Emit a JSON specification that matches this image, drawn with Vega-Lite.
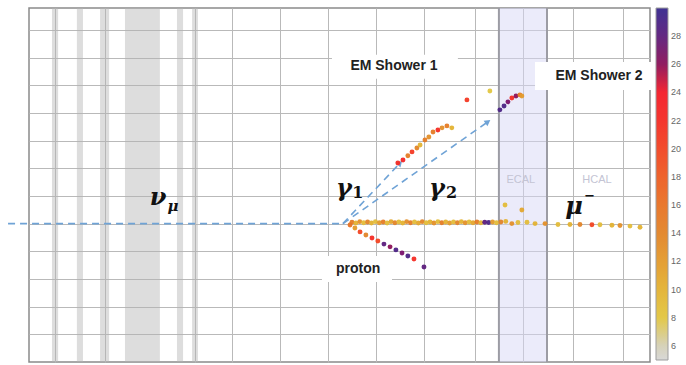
{
  "$schema": "https://vega.github.io/schema/vega-lite/v6.json",
  "width": 621,
  "height": 354,
  "autosize": {"type": "none"},
  "padding": {"left": 29, "top": 8, "right": 36, "bottom": 3},
  "background": "white",
  "config": {
    "view": {"stroke": "#8a8a8a", "strokeWidth": 1.5},
    "axis": {"labels": false, "ticks": false, "domain": false, "title": null, "gridColor": "#b9b9b9", "gridWidth": 1}
  },
  "datasets": {
    "bands": [
      {"x0": 0.61, "x1": 0.86},
      {"x0": 1.63, "x1": 1.88},
      {"x0": 2.58, "x1": 2.95},
      {"x0": 3.60, "x1": 5.03},
      {"x0": 5.73, "x1": 5.98},
      {"x0": 6.35, "x1": 6.59}
    ],
    "ecal": [{"x0": 18.92, "x1": 20.89}],
    "edges": [{"x": 18.92}, {"x": 20.89}],
    "boxes": [
      {"label": "EM Shower 1", "x0": 12.08, "x1": 17.24, "y0": 10.23, "y1": 11.10},
      {"label": "EM Shower 2", "x0": 20.40, "x1": 25.60, "y0": 9.83, "y1": 10.84},
      {"label": "proton", "x0": 11.67, "x1": 14.54, "y0": 2.89, "y1": 3.83}
    ],
    "tracks": [
      {"track": "beam", "x": -1.19, "y": 5.0},
      {"track": "beam", "x": 12.53, "y": 5.0},
      {"track": "gamma1", "x": 12.53, "y": 5.0},
      {"track": "gamma1", "x": 14.87, "y": 7.19},
      {"track": "gamma2", "x": 12.53, "y": 5.0},
      {"track": "gamma2", "x": 18.47, "y": 8.68}
    ],
    "arrows": [
      {"track": "gamma1", "x": 14.87, "y": 7.19},
      {"track": "gamma2", "x": 18.47, "y": 8.68}
    ],
    "hits": [
      {"x": 12.90, "y": 5.05, "e": 15}, {"x": 13.06, "y": 5.02, "e": 10}, {"x": 13.22, "y": 5.07, "e": 13},
      {"x": 13.38, "y": 5.03, "e": 9}, {"x": 13.54, "y": 5.06, "e": 14}, {"x": 13.70, "y": 5.02, "e": 10},
      {"x": 13.86, "y": 5.07, "e": 9}, {"x": 14.02, "y": 5.03, "e": 12}, {"x": 14.18, "y": 5.06, "e": 15},
      {"x": 14.34, "y": 5.02, "e": 9}, {"x": 14.50, "y": 5.07, "e": 11}, {"x": 14.66, "y": 5.03, "e": 14},
      {"x": 14.82, "y": 5.06, "e": 9}, {"x": 14.98, "y": 5.02, "e": 10}, {"x": 15.14, "y": 5.07, "e": 13},
      {"x": 15.30, "y": 5.03, "e": 15}, {"x": 15.46, "y": 5.06, "e": 9}, {"x": 15.62, "y": 5.02, "e": 11},
      {"x": 15.78, "y": 5.07, "e": 14}, {"x": 15.94, "y": 5.03, "e": 9}, {"x": 16.10, "y": 5.06, "e": 10},
      {"x": 16.26, "y": 5.02, "e": 13}, {"x": 16.42, "y": 5.07, "e": 9}, {"x": 16.58, "y": 5.03, "e": 15},
      {"x": 16.74, "y": 5.06, "e": 10}, {"x": 16.90, "y": 5.02, "e": 12}, {"x": 17.06, "y": 5.06, "e": 9},
      {"x": 17.22, "y": 5.03, "e": 14}, {"x": 17.38, "y": 5.07, "e": 10}, {"x": 17.54, "y": 5.03, "e": 13},
      {"x": 17.70, "y": 5.06, "e": 9}, {"x": 17.86, "y": 5.03, "e": 11}, {"x": 18.02, "y": 5.06, "e": 15},
      {"x": 18.18, "y": 5.03, "e": 10}, {"x": 18.34, "y": 5.05, "e": 28}, {"x": 18.50, "y": 5.04, "e": 29},
      {"x": 18.66, "y": 5.06, "e": 12}, {"x": 18.82, "y": 5.03, "e": 9}, {"x": 19.00, "y": 5.06, "e": 14},
      {"x": 19.20, "y": 5.08, "e": 10}, {"x": 19.45, "y": 5.00, "e": 13}, {"x": 19.70, "y": 5.04, "e": 9},
      {"x": 20.07, "y": 5.05, "e": 9}, {"x": 20.40, "y": 5.00, "e": 10}, {"x": 20.81, "y": 5.00, "e": 13},
      {"x": 21.34, "y": 4.97, "e": 9}, {"x": 21.83, "y": 4.97, "e": 10}, {"x": 22.24, "y": 4.97, "e": 14},
      {"x": 22.73, "y": 4.96, "e": 20}, {"x": 23.06, "y": 4.96, "e": 9}, {"x": 23.55, "y": 4.94, "e": 10},
      {"x": 23.88, "y": 4.93, "e": 13}, {"x": 24.29, "y": 4.91, "e": 9}, {"x": 24.70, "y": 4.87, "e": 10},
      {"x": 19.17, "y": 5.67, "e": 9}, {"x": 19.86, "y": 5.49, "e": 11},
      {"x": 12.82, "y": 4.95, "e": 16}, {"x": 13.02, "y": 4.84, "e": 12}, {"x": 13.23, "y": 4.70, "e": 20},
      {"x": 13.47, "y": 4.59, "e": 14}, {"x": 13.72, "y": 4.48, "e": 22}, {"x": 13.96, "y": 4.37, "e": 20},
      {"x": 14.21, "y": 4.26, "e": 28}, {"x": 14.46, "y": 4.16, "e": 26}, {"x": 14.70, "y": 4.05, "e": 29},
      {"x": 14.95, "y": 3.94, "e": 27}, {"x": 15.19, "y": 3.83, "e": 29}, {"x": 15.44, "y": 3.72, "e": 22},
      {"x": 15.85, "y": 3.43, "e": 28},
      {"x": 14.78, "y": 7.19, "e": 22}, {"x": 14.99, "y": 7.30, "e": 23}, {"x": 15.19, "y": 7.45, "e": 15},
      {"x": 15.36, "y": 7.59, "e": 21}, {"x": 15.56, "y": 7.73, "e": 14}, {"x": 15.69, "y": 7.84, "e": 10},
      {"x": 15.89, "y": 8.02, "e": 15}, {"x": 16.05, "y": 8.13, "e": 13}, {"x": 16.22, "y": 8.31, "e": 15},
      {"x": 16.42, "y": 8.38, "e": 22}, {"x": 16.59, "y": 8.46, "e": 13}, {"x": 16.79, "y": 8.53, "e": 15},
      {"x": 16.99, "y": 8.46, "e": 10}, {"x": 17.61, "y": 9.47, "e": 21}, {"x": 18.55, "y": 9.79, "e": 8},
      {"x": 18.96, "y": 9.11, "e": 29}, {"x": 19.13, "y": 9.25, "e": 29}, {"x": 19.29, "y": 9.40, "e": 27},
      {"x": 19.45, "y": 9.54, "e": 22}, {"x": 19.62, "y": 9.61, "e": 26}, {"x": 19.78, "y": 9.65, "e": 15},
      {"x": 19.86, "y": 9.61, "e": 12}
    ],
    "labels": [
      {"kind": "box", "text": "EM Shower 1", "x": 14.62, "y": 10.68},
      {"kind": "box", "text": "EM Shower 2", "x": 23.02, "y": 10.34},
      {"kind": "box", "text": "proton", "x": 13.15, "y": 3.36},
      {"kind": "greek", "text": "ν", "x": 4.96, "y": 5.93},
      {"kind": "greek", "text": "γ", "x": 12.57, "y": 6.25},
      {"kind": "greek", "text": "γ", "x": 16.38, "y": 6.25},
      {"kind": "greek", "text": "μ", "x": 22.0, "y": 5.6},
      {"kind": "sub", "text": "μ", "x": 5.57, "y": 5.64},
      {"kind": "subnum", "text": "1", "x": 13.14, "y": 6.11},
      {"kind": "subnum", "text": "2", "x": 16.98, "y": 6.11},
      {"kind": "sup", "text": "−", "x": 22.64, "y": 5.98},
      {"kind": "region", "text": "ECAL", "x": 19.82, "y": 6.56},
      {"kind": "region", "text": "HCAL", "x": 22.94, "y": 6.56}
    ]
  },
  "layer": [
    {
      "data": {"name": "bands"},
      "mark": {"type": "rect", "fill": "#b4b4b4", "opacity": 0.45},
      "encoding": {
        "x": {"field": "x0", "type": "quantitative",
          "scale": {"domain": [-0.332, 25.11], "nice": false, "zero": false},
          "axis": {"grid": true, "values": [0.73, 1.76, 2.78, 5.85, 6.47, 7.0, 7.98, 8.97, 9.95, 10.93, 11.92, 12.9, 13.88, 14.86, 15.85, 16.91, 17.94, 18.92, 19.9, 20.89, 21.95, 22.94, 24.0]}},
        "x2": {"field": "x1"}
      }
    },
    {
      "data": {"name": "ecal"},
      "mark": {"type": "rect", "fill": "#d8d8f6", "opacity": 0.5},
      "encoding": {"x": {"field": "x0", "type": "quantitative"}, "x2": {"field": "x1"}}
    },
    {
      "data": {"name": "edges"},
      "mark": {"type": "rule", "color": "#9c9ca4", "strokeWidth": 2},
      "encoding": {"x": {"field": "x", "type": "quantitative"}}
    },
    {
      "data": {"name": "boxes"},
      "mark": {"type": "rect", "fill": "white"},
      "encoding": {
        "x": {"field": "x0", "type": "quantitative"}, "x2": {"field": "x1"},
        "y": {"field": "y0", "type": "quantitative",
          "scale": {"domain": [0, 12.79], "nice": false, "zero": false},
          "axis": {"grid": true, "values": [1, 2, 3, 4, 5, 6, 7, 8, 9, 10, 11, 12], "tickCount": 12}},
        "y2": {"field": "y1"}
      }
    },
    {
      "data": {"name": "tracks"},
      "mark": {"type": "line", "color": "#6fa3d6", "strokeWidth": 1.6, "strokeDash": [7, 5]},
      "encoding": {
        "x": {"field": "x", "type": "quantitative"},
        "y": {"field": "y", "type": "quantitative", "axis": {"grid": true, "values": [1, 2, 3, 4, 5, 6, 7, 8, 9, 10, 11, 12], "tickCount": 12}},
        "detail": {"field": "track"}
      }
    },
    {
      "data": {"name": "arrows"},
      "transform": [{"filter": "datum.track === 'gamma1'"}],
      "mark": {"type": "point", "shape": "triangle-up", "filled": true, "color": "#6fa3d6", "opacity": 1, "size": 45, "angle": 44},
      "encoding": {"x": {"field": "x", "type": "quantitative"}, "y": {"field": "y", "type": "quantitative", "axis": {"grid": true, "values": [1, 2, 3, 4, 5, 6, 7, 8, 9, 10, 11, 12], "tickCount": 12}}}
    },
    {
      "data": {"name": "arrows"},
      "transform": [{"filter": "datum.track === 'gamma2'"}],
      "mark": {"type": "point", "shape": "triangle-up", "filled": true, "color": "#6fa3d6", "opacity": 1, "size": 45, "angle": 55},
      "encoding": {"x": {"field": "x", "type": "quantitative"}, "y": {"field": "y", "type": "quantitative", "axis": {"grid": true, "values": [1, 2, 3, 4, 5, 6, 7, 8, 9, 10, 11, 12], "tickCount": 12}}}
    },
    {
      "data": {"name": "hits"},
      "mark": {"type": "circle", "size": 24, "opacity": 0.95},
      "encoding": {
        "x": {"field": "x", "type": "quantitative"},
        "y": {"field": "y", "type": "quantitative", "axis": {"grid": true, "values": [1, 2, 3, 4, 5, 6, 7, 8, 9, 10, 11, 12], "tickCount": 12}},
        "color": {
          "field": "e", "type": "quantitative",
          "scale": {
            "domain": [5, 6, 8, 10, 12, 14, 16, 18, 20, 22, 24, 25, 26, 28, 30],
            "range": ["#d6d6d6", "#d4d0b6", "#e2c640", "#e3b232", "#e39a2c", "#e28428", "#e87224", "#ee5c22", "#f24422", "#f42c24", "#f41c28", "#c8143c", "#8c1258", "#5c1e7c", "#36288e"]
          },
          "legend": {
            "orient": "none", "legendX": 627, "legendY": 0, "direction": "vertical",
            "gradientLength": 352, "gradientThickness": 12, "title": null,
            "values": [6, 8, 10, 12, 14, 16, 18, 20, 22, 24, 26, 28],
            "labelFontSize": 9, "labelColor": "#666", "labelOffset": 3, "labelOverlap": false,
            "gradientStrokeColor": "#999", "gradientStrokeWidth": 1
          }
        }
      }
    },
    {
      "data": {"name": "labels"},
      "transform": [{"filter": "datum.kind === 'box'"}],
      "mark": {"type": "text", "font": "Liberation Sans", "fontWeight": "bold", "fontSize": 14, "color": "#222"},
      "encoding": {"x": {"field": "x", "type": "quantitative"}, "y": {"field": "y", "type": "quantitative"}, "text": {"field": "text"}}
    },
    {
      "data": {"name": "labels"},
      "transform": [{"filter": "datum.kind === 'greek'"}],
      "mark": {"type": "text", "font": "DejaVu Serif", "fontWeight": "bold", "fontStyle": "italic", "fontSize": 24, "color": "#111"},
      "encoding": {"x": {"field": "x", "type": "quantitative"}, "y": {"field": "y", "type": "quantitative"}, "text": {"field": "text"}}
    },
    {
      "data": {"name": "labels"},
      "transform": [{"filter": "datum.kind === 'sub'"}],
      "mark": {"type": "text", "font": "DejaVu Serif", "fontWeight": "bold", "fontStyle": "italic", "fontSize": 15, "color": "#111"},
      "encoding": {"x": {"field": "x", "type": "quantitative"}, "y": {"field": "y", "type": "quantitative"}, "text": {"field": "text"}}
    },
    {
      "data": {"name": "labels"},
      "transform": [{"filter": "datum.kind === 'subnum'"}],
      "mark": {"type": "text", "font": "DejaVu Serif", "fontWeight": "bold", "fontSize": 16, "color": "#111"},
      "encoding": {"x": {"field": "x", "type": "quantitative"}, "y": {"field": "y", "type": "quantitative"}, "text": {"field": "text"}}
    },
    {
      "data": {"name": "labels"},
      "transform": [{"filter": "datum.kind === 'sup'"}],
      "mark": {"type": "text", "font": "DejaVu Sans", "fontWeight": "bold", "fontSize": 13, "color": "#111"},
      "encoding": {"x": {"field": "x", "type": "quantitative"}, "y": {"field": "y", "type": "quantitative"}, "text": {"field": "text"}}
    },
    {
      "data": {"name": "labels"},
      "transform": [{"filter": "datum.kind === 'region'"}],
      "mark": {"type": "text", "font": "Liberation Sans", "fontSize": 11, "color": "#c4c4d4"},
      "encoding": {"x": {"field": "x", "type": "quantitative"}, "y": {"field": "y", "type": "quantitative"}, "text": {"field": "text"}}
    }
  ]
}
